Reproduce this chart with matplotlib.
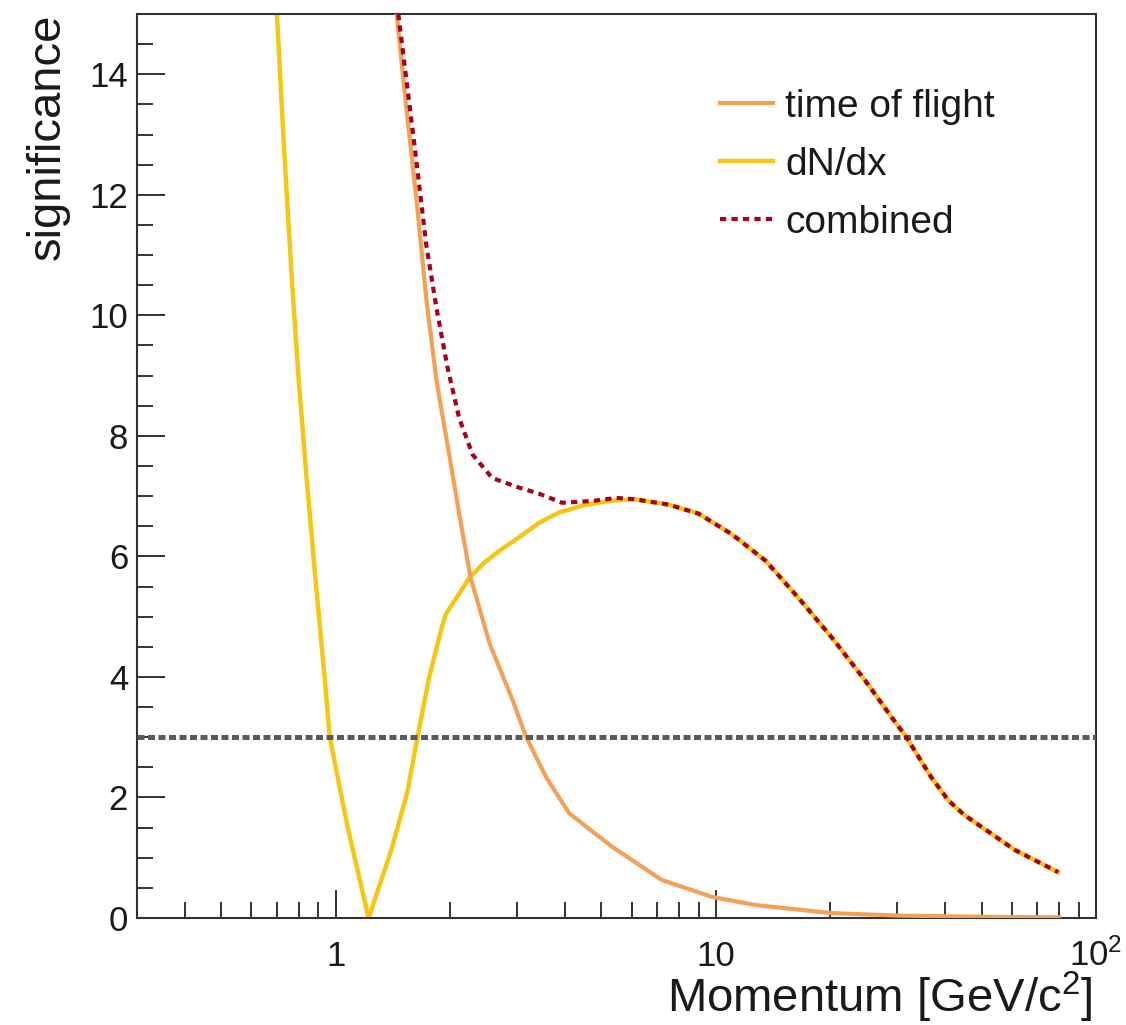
import matplotlib
matplotlib.use("Agg")
import matplotlib.pyplot as plt
from matplotlib.ticker import FixedLocator, LogLocator, MultipleLocator, NullFormatter
import numpy as np
from matplotlib import rcParams

rcParams['font.family'] = 'sans-serif'
rcParams['font.sans-serif'] = ['Liberation Sans', 'DejaVu Sans']
rcParams['mathtext.default'] = 'regular'

# separation power vs momentum, time of flight
tof_p = [1.446, 1.527, 1.632, 1.733, 1.841, 1.980, 2.128, 2.262, 2.54, 2.92, 3.17,
         3.58, 4.11, 4.70, 5.34, 7.21, 9.77, 12.7, 20.2, 30.0, 50.0, 80.0]
tof_sig = [15.0, 13.54, 11.89, 10.23, 8.91, 7.75, 6.59, 5.65, 4.55, 3.61, 3.0,
           2.33, 1.74, 1.45, 1.18, 0.63, 0.35, 0.215, 0.08, 0.04, 0.02, 0.01]

# cluster counting dN/dx
dndx_p = [0.700, 0.731, 0.767, 0.799, 0.839, 0.885, 0.936, 0.964, 1.075, 1.22,
          1.40, 1.54, 1.64, 1.76, 1.90, 1.95, 2.11, 2.25, 2.46, 2.69, 3.04, 3.43,
          3.87, 4.50, 5.24, 6.09, 7.50, 9.00, 11.0, 13.5, 16.5, 20.2, 24.7, 29.0,
          31.7, 36.9, 40.9, 45.0, 50.0, 61.1, 79.5]
dndx_sig = [15.0, 12.76, 10.56, 8.91, 7.25, 5.60, 3.94, 3.0, 1.5, 0.0,
            1.13, 2.07, 3.0, 3.99, 4.82, 5.05, 5.38, 5.65, 5.90, 6.09, 6.32, 6.56,
            6.73, 6.85, 6.92, 6.95, 6.86, 6.71, 6.37, 5.93, 5.31, 4.65, 3.94, 3.33,
            3.0, 2.33, 1.95, 1.71, 1.51, 1.13, 0.76]

# both methods combined
comb_p = [1.46, 1.61, 1.73, 1.84, 1.97, 2.11, 2.29, 2.58, 3.04, 3.43, 3.94, 4.73, 5.47,
          6.09, 7.50, 9.00, 11.0, 13.5, 16.5, 20.2, 24.7, 29.0, 31.7, 36.9, 40.9, 45.0,
          50.0, 61.1, 79.5]
comb_sig = [15.0, 12.83, 11.17, 10.12, 9.12, 8.30, 7.69, 7.30, 7.14, 7.04, 6.89, 6.92, 6.97,
            6.95, 6.86, 6.71, 6.37, 5.93, 5.31, 4.65, 3.94, 3.33, 3.0, 2.33, 1.95, 1.71,
            1.51, 1.13, 0.76]

threshold = 3.0

xticks = [1, 10, 100]
xticklabels = ['1', '10', '$10^{2}$']
yticks = [0, 2, 4, 6, 8, 10, 12, 14]

c_tof = '#F2A157'
c_dndx = '#F5C714'
c_comb = '#A8001A'
c_thr = '#5A5A5A'
c_axis = '#333333'
c_text = '#1a1a1a'

fig = plt.figure(figsize=(11.26, 10.25), dpi=100)
ax = fig.add_axes([0.1217, 0.1044, 0.8517, 0.8819])

l_tof, = ax.plot(tof_p, tof_sig, color=c_tof, lw=3, zorder=3, solid_joinstyle='round')
l_dndx, = ax.plot(dndx_p, dndx_sig, color=c_dndx, lw=3.2, zorder=2, solid_joinstyle='round')
ax.axhline(threshold, color=c_thr, lw=3.6, dashes=(1.4, 0.7), zorder=4)
l_comb, = ax.plot(comb_p, comb_sig, color=c_comb, lw=3, dashes=(1.5, 1.25), zorder=5)

ax.set_xscale('log')
ax.set_xlim(0.3, 100)
ax.set_ylim(0, 15)

ax.xaxis.set_major_locator(FixedLocator(xticks))
ax.xaxis.set_minor_locator(LogLocator(base=10, subs=np.arange(2, 10)))
ax.xaxis.set_minor_formatter(NullFormatter())
ax.set_xticklabels(xticklabels, va='baseline')
ax.yaxis.set_major_locator(FixedLocator(yticks))
ax.yaxis.set_minor_locator(MultipleLocator(0.5))

ax.tick_params(which='both', direction='in', top=False, right=False,
               color=c_axis, width=1.4, labelcolor=c_text, labelsize=25)
ax.tick_params(which='major', length=20)
ax.tick_params(which='minor', length=11.5)
ax.tick_params(axis='x', which='major', pad=34.5)
ax.tick_params(axis='y', which='major', pad=6.5)
for s in ax.spines.values():
    s.set_color(c_axis)
    s.set_linewidth(1.5)

ax.set_xlabel('Momentum [GeV/c$^{2}$]', fontsize=34, color=c_text, loc='right')
ax.xaxis.set_label_coords(0.996, -0.0575)
ax.set_ylabel('significance', fontsize=34, color=c_text, loc='top')
ax.yaxis.set_label_coords(-0.070, 1.0)

ax.legend([l_tof, l_dndx, l_comb], ['time of flight', 'dN/dx', 'combined'],
          loc='upper left', bbox_to_anchor=(0.608, 0.917), frameon=False,
          fontsize=28, handlelength=1.36, handletextpad=0.31, labelspacing=0.56,
          borderaxespad=0, borderpad=0, labelcolor=c_text)

fig.savefig('out.png', dpi=100)
